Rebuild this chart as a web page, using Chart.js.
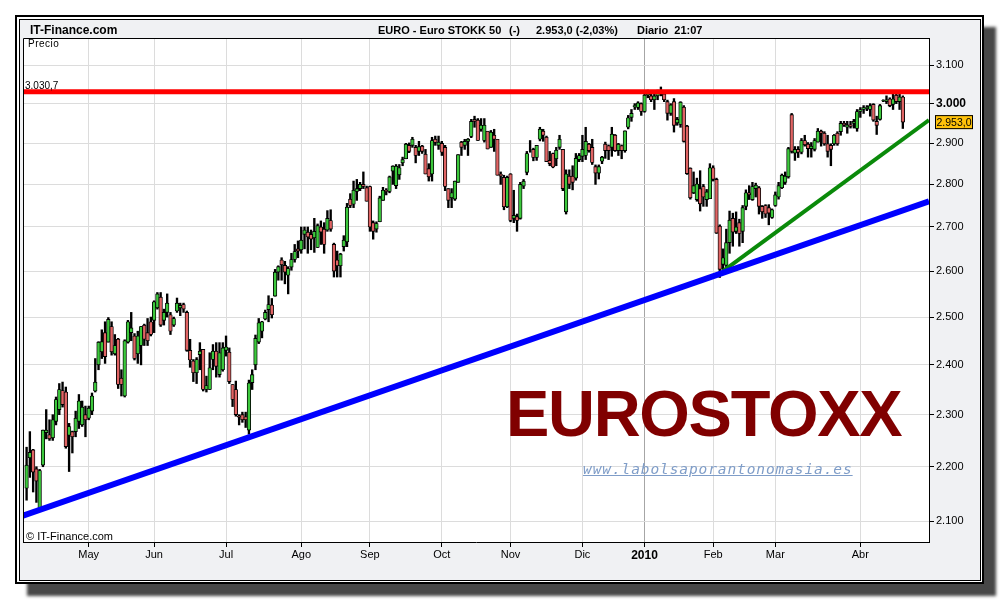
<!DOCTYPE html>
<html>
<head>
<meta charset="utf-8">
<script src="https://cdn.jsdelivr.net/npm/chart.js@4.4.1/dist/chart.umd.min.js"></script>
<style>
html,body{margin:0;padding:0;background:#fff;width:1000px;height:600px;overflow:hidden;font-family:"Liberation Sans",Arial,sans-serif;}
#outer{position:absolute;left:15px;top:15px;width:965px;height:565px;border:2px solid #000;background:#fff;box-shadow:12px 12px 3px #474747;}
#inner{position:absolute;left:19px;top:19px;width:960px;height:560px;border:1px solid #000;background:#f0f1f3;}
#c{position:absolute;left:0;top:0;z-index:2;}
.t{position:absolute;z-index:3;white-space:pre;color:#000;}
</style>
</head>
<body>
<div id="outer"></div>
<div id="inner"></div>
<canvas id="c" width="1000" height="600"></canvas>
<div class="t" style="left:30px;top:23px;font:bold 12px/14px 'Liberation Sans',Arial,sans-serif;">IT-Finance.com</div>
<div class="t" style="left:378px;top:24px;font:bold 11px/13px 'Liberation Sans',Arial,sans-serif;">EURO - Euro STOKK 50</div>
<div class="t" style="left:509px;top:24px;font:bold 11px/13px 'Liberation Sans',Arial,sans-serif;">(-)</div>
<div class="t" style="left:536px;top:24px;font:bold 11px/13px 'Liberation Sans',Arial,sans-serif;">2.953,0 (-2,03%)</div>
<div class="t" style="left:637px;top:24px;font:bold 11px/13px 'Liberation Sans',Arial,sans-serif;">Diario  21:07</div>
<div class="t" style="left:28px;top:39px;font:10px/10px 'Liberation Sans',Arial,sans-serif;letter-spacing:0.5px;">Precio</div>
<div class="t" style="left:26px;top:531px;font:11px/11px 'Liberation Sans',Arial,sans-serif;">© IT-Finance.com</div>
<div class="t" style="left:506px;top:381px;font:bold 65px/66px 'Liberation Sans',Arial,sans-serif;letter-spacing:-1.3px;color:#800000;">EUROSTOXX</div>
<div class="t" style="left:583px;top:462px;font:oblique 14.5px/14px 'DejaVu Sans Mono',monospace;letter-spacing:0.9px;color:#7f9dc8;text-decoration:underline;">www.labolsaporantonomasia.es</div>
<script>
// ---- data (daily candles, Euro Stoxx 50, Apr 2009 - Apr 2010) ----
const opens = [
2160,2217,2232,2196,2123,2203,2265,2261,2255,2287,
2310,2348,2345,2260,2267,2267,2287,2280,2300,2293,
2307,2347,2400,2427,2467,2447,2480,2423,2453,2373,
2337,2447,2467,2460,2423,2440,2483,2467,2490,2493,
2520,2543,2493,2510,2505,2483,2513,2520,2527,2510,
2430,2408,2384,2421,2432,2350,2350,2411,2428,2380,
2390,2430,2426,2360,2350,2298,2300,2296,2270,2364,
2400,2447,2470,2496,2516,2526,2545,2598,2625,2613,
2591,2609,2626,2650,2648,2683,2688,2683,2675,2653,
2700,2695,2693,2715,2660,2625,2612,2655,2666,2765,
2753,2783,2790,2800,2792,2795,2710,2695,2712,2762,
2786,2783,2832,2797,2823,2852,2862,2895,2895,2890,
2880,2893,2873,2838,2825,2910,2895,2900,2890,2790,
2768,2765,2805,2903,2895,2905,2917,2960,2958,2935,
2907,2930,2890,2920,2910,2825,2817,2747,2825,2720,
2724,2720,2796,2829,2880,2885,2865,2910,2930,2915,
2858,2875,2862,2890,2885,2735,2820,2820,2815,2860,
2868,2870,2898,2890,2843,2827,2856,2898,2894,2890,
2920,2882,2894,2882,2940,2965,2992,2990,3000,2980,
3022,3020,3010,3020,3030,3025,3005,2975,3005,2951,
2947,2991,2943,2839,2780,2764,2790,2795,2764,2766,
2840,2812,2702,2615,2613,2664,2720,2690,2710,2690,
2748,2780,2764,2790,2792,2748,2750,2745,2722,2750,
2770,2792,2805,2818,2972,2876,2885,2878,2907,2898,
2887,2885,2903,2930,2925,2899,2895,2899,2925,2929,
2950,2940,2946,2950,2937,2980,2985,2988,2985,2998,
2955,2960,3007,3005,3012,2998,3022,3005,3017];
const highs = [
2237,2267,2233,2200,2195,2270,2310,2290,2300,2335,
2362,2365,2355,2283,2268,2307,2340,2327,2317,2317,
2343,2413,2448,2473,2490,2499,2490,2463,2455,2390,
2452,2493,2510,2465,2470,2480,2485,2497,2500,2535,
2553,2553,2517,2550,2510,2500,2541,2530,2530,2513,
2453,2411,2415,2446,2432,2377,2425,2442,2446,2446,
2446,2460,2435,2360,2367,2300,2305,2305,2369,2390,
2462,2497,2491,2515,2546,2540,2604,2612,2630,2622,
2610,2640,2660,2668,2700,2700,2700,2693,2720,2707,
2714,2710,2738,2740,2663,2645,2640,2680,2755,2778,
2808,2812,2805,2830,2796,2796,2714,2712,2772,2793,
2790,2820,2845,2848,2848,2866,2900,2901,2915,2895,
2905,2895,2885,2850,2915,2918,2918,2905,2895,2790,
2790,2808,2872,2905,2910,2912,2960,2968,2962,2962,
2962,2930,2932,2935,2910,2830,2822,2820,2826,2786,
2730,2805,2812,2880,2907,2888,2895,2940,2935,2918,
2880,2876,2890,2920,2885,2835,2835,2845,2875,2875,
2920,2940,2900,2910,2847,2847,2868,2903,2896,2940,
2922,2900,2896,2931,2970,2985,3000,3005,3002,3030,
3035,3030,3025,3035,3043,3030,3009,3000,3013,2965,
3005,2995,2945,2840,2830,2815,2833,2800,2788,2850,
2845,2815,2705,2650,2695,2737,2732,2735,2718,2750,
2787,2797,2805,2803,2795,2750,2752,2752,2742,2782,
2805,2825,2830,2890,2975,2892,2892,2912,2920,2902,
2902,2912,2937,2933,2929,2920,2899,2922,2929,2955,
2955,2955,2955,2960,2985,2990,2995,2995,3000,3000,
2968,2998,3010,3020,3015,3028,3030,3030,3020];
const lows = [
2138,2180,2153,2134,2120,2200,2253,2250,2250,2280,
2300,2315,2235,2191,2226,2257,2273,2277,2257,2290,
2300,2345,2390,2413,2403,2447,2420,2420,2352,2337,
2335,2445,2450,2410,2403,2400,2440,2440,2460,2467,
2517,2480,2483,2500,2463,2480,2510,2503,2510,2428,
2395,2366,2362,2390,2347,2345,2350,2390,2375,2375,
2387,2418,2362,2316,2297,2280,2285,2275,2262,2350,
2390,2444,2456,2494,2490,2498,2545,2580,2580,2572,
2550,2602,2620,2630,2640,2650,2640,2648,2642,2653,
2660,2640,2690,2690,2587,2587,2587,2645,2655,2745,
2745,2762,2785,2790,2760,2690,2672,2688,2712,2762,
2775,2780,2800,2790,2812,2845,2862,2877,2890,2852,
2870,2875,2825,2808,2808,2895,2885,2870,2785,2745,
2745,2762,2805,2870,2885,2870,2914,2940,2907,2930,
2903,2886,2890,2880,2822,2800,2740,2745,2712,2710,
2690,2718,2790,2823,2878,2857,2858,2906,2905,2855,
2845,2840,2845,2885,2785,2730,2790,2787,2810,2855,
2855,2860,2878,2848,2800,2813,2850,2863,2860,2868,
2880,2870,2862,2878,2936,2955,2985,2985,2970,2978,
3015,3005,2985,3010,3020,3005,2958,2970,2928,2945,
2940,2903,2824,2765,2778,2760,2737,2748,2748,2766,
2808,2685,2586,2600,2610,2640,2656,2685,2656,2664,
2740,2764,2762,2770,2730,2720,2722,2705,2720,2748,
2765,2790,2800,2815,2876,2858,2865,2874,2893,2866,
2866,2881,2903,2893,2895,2866,2845,2895,2895,2920,
2942,2925,2938,2938,2930,2965,2975,2982,2968,2955,
2922,2958,3005,3000,2992,2985,3000,2985,2937];
const closes = [
2203,2227,2190,2173,2193,2270,2270,2253,2290,2330,
2350,2320,2238,2277,2257,2293,2327,2315,2290,2313,
2337,2365,2447,2448,2417,2495,2427,2440,2360,2360,
2450,2490,2477,2413,2460,2480,2453,2450,2463,2533,
2550,2483,2510,2530,2470,2497,2530,2525,2517,2430,
2410,2384,2411,2428,2350,2358,2394,2428,2397,2425,
2435,2437,2366,2330,2300,2295,2290,2290,2363,2380,
2455,2488,2490,2510,2527,2505,2598,2610,2614,2598,
2606,2626,2644,2645,2670,2693,2677,2672,2690,2703,
2688,2660,2720,2695,2600,2612,2638,2670,2746,2750,
2786,2790,2800,2795,2760,2700,2690,2708,2768,2786,
2783,2818,2844,2844,2840,2860,2898,2880,2910,2870,
2892,2880,2825,2818,2907,2902,2903,2878,2795,2762,
2780,2808,2872,2890,2905,2910,2955,2955,2907,2945,
2945,2886,2928,2910,2822,2820,2747,2817,2715,2727,
2715,2800,2808,2875,2880,2865,2895,2935,2920,2855,
2850,2842,2883,2910,2790,2825,2800,2805,2863,2870,
2885,2905,2882,2853,2827,2843,2866,2882,2882,2923,
2882,2898,2882,2931,2964,2975,2995,3002,2980,3022,
3025,3010,3020,3030,3035,3010,2975,2997,2945,2960,
3004,2905,2826,2768,2797,2801,2754,2770,2782,2840,
2812,2686,2604,2630,2664,2716,2688,2700,2685,2745,
2780,2775,2795,2798,2748,2735,2730,2732,2740,2775,
2797,2822,2820,2887,2880,2885,2878,2907,2896,2887,
2893,2907,2930,2925,2899,2880,2885,2920,2899,2950,
2946,2946,2942,2955,2980,2985,2990,2990,2995,2958,
2945,2995,3008,3010,2995,3012,3005,3017,2953];

// month labels and index of first trading day of each month
const monthLabels = ['May','Jun','Jul','Ago','Sep','Oct','Nov','Dic','2010','Feb','Mar','Abr'];
const monthStart  = [19, 39, 61, 84, 105, 127, 148, 170, 189, 210, 229, 255];
const yTickValues = [2100,2200,2300,2400,2500,2600,2700,2800,2900,3000,3100];

// drawn lines: resistance level and two support trend lines (day index, price)
const resistance = 3030.7;
const blueTrendDays = [-1.1, 276], blueTrendPrices = [2110, 2760];
const greenTrendDays = [213, 276], greenTrendPrices = [2600, 2958];
const dayMin = -1.1, dayMax = 276;

// ---- helpers ----
function fmt(v, dec) {
  const p = v.toFixed(dec).split('.');
  const ip = p[0].replace(/\B(?=(\d{3})+(?!\d))/g, '.');
  return p.length > 1 ? ip + ',' + p[1] : ip;
}
const FONT = '"Liberation Sans", Arial, sans-serif';
Chart.defaults.font.family = FONT;
Chart.defaults.font.size = 11;
Chart.defaults.color = '#000';

const idx = closes.map((_, i) => i);
const wickData = idx.map(i => ({x: i, y: [Math.min(lows[i], opens[i], closes[i]), Math.max(highs[i], opens[i], closes[i])]}));
const bodyData = idx.map(i => ({x: i, y: [opens[i], closes[i]]}));
const bodyColors = idx.map(i => closes[i] >= opens[i] ? '#3cc83c' : '#e06464');

const framePlugin = {
  id: 'framePlugin',
  beforeDraw(chart) {
    const {ctx, chartArea: a} = chart;
    ctx.save();
    ctx.fillStyle = '#fff';
    ctx.fillRect(a.left, a.top, a.right - a.left, a.bottom - a.top);
    ctx.restore();
  },
  afterDraw(chart) {
    const {ctx, chartArea: a} = chart;
    const y = chart.scales.y;
    ctx.save();
    ctx.strokeStyle = '#000';
    ctx.lineWidth = 1;
    ctx.beginPath();
    ctx.moveTo(a.left + 0.5, a.bottom);
    ctx.lineTo(a.left + 0.5, a.top + 0.5);
    ctx.lineTo(a.right, a.top + 0.5);
    ctx.stroke();
    // resistance label
    const ry = y.getPixelForValue(resistance);
    ctx.font = '10px ' + FONT;
    ctx.fillStyle = '#000';
    ctx.textAlign = 'left';
    ctx.textBaseline = 'alphabetic';
    ctx.fillText(fmt(resistance, 1), a.left + 2, ry - 3);
    // last price box
    const last = closes[closes.length - 1];
    const py = y.getPixelForValue(last);
    ctx.fillStyle = '#ffc20a';
    ctx.fillRect(a.right + 6, py - 7, 38, 14);
    ctx.strokeRect(a.right + 6.5, py - 6.5, 37, 13);
    ctx.fillStyle = '#000';
    ctx.textAlign = 'center';
    ctx.textBaseline = 'middle';
    ctx.font = '10.5px ' + FONT;
    ctx.fillText(fmt(last, 1), a.right + 25, py + 0.5);
    ctx.restore();
  }
};

new Chart(document.getElementById('c'), {
  type: 'bar',
  data: {
    datasets: [
      {type: 'line', data: [{x: dayMin, y: resistance}, {x: dayMax, y: resistance}], borderColor: '#ff0000', borderWidth: 5, pointRadius: 0, order: 0},
      {type: 'line', data: blueTrendDays.map((d, k) => ({x: d, y: blueTrendPrices[k]})), borderColor: '#0000ff', borderWidth: 6, pointRadius: 0, order: 0},
      {type: 'line', data: greenTrendDays.map((d, k) => ({x: d, y: greenTrendPrices[k]})), borderColor: '#0a8a0a', borderWidth: 4, pointRadius: 0, order: 0},
      {data: bodyData, backgroundColor: bodyColors, borderColor: '#000', borderWidth: 0.9, borderSkipped: false, barThickness: 3.6, grouped: false, order: 1},
      {data: wickData, backgroundColor: '#000', borderWidth: 0, barThickness: 1.7, grouped: false, order: 2}
    ]
  },
  options: {
    responsive: false,
    devicePixelRatio: 1,
    animation: false,
    layout: {padding: {left: 23, top: 38, right: 0, bottom: 0}},
    plugins: {legend: {display: false}, tooltip: {enabled: false}, title: {display: false}},
    scales: {
      x: {
        type: 'linear',
        min: dayMin,
        max: dayMax,
        offset: false,
        afterBuildTicks: s => { s.ticks = monthStart.map(v => ({value: v})); },
        afterFit: s => { s.height = 58; },
        ticks: {
          autoSkip: false,
          maxRotation: 0,
          padding: 1,
          color: '#000',
          callback: v => { const k = monthStart.indexOf(v); return k >= 0 ? monthLabels[k] : ''; },
          font: ctx => (ctx.tick && ctx.tick.value === 189) ? {size: 12, weight: 'bold'} : {size: 11}
        },
        grid: {
          offset: false,
          color: ctx => (ctx.tick && ctx.tick.value === 189) ? '#a6a6a6' : '#dcdcdc',
          tickColor: '#000',
          tickLength: 5,
          lineWidth: 1
        },
        border: {display: true, color: '#000', width: 1}
      },
      y: {
        type: 'logarithmic',
        position: 'right',
        min: 2063,
        max: 3173,
        afterBuildTicks: s => { s.ticks = yTickValues.map(v => ({value: v})); },
        afterFit: s => { s.width = 71; },
        ticks: {
          padding: 2,
          color: '#000',
          callback: v => fmt(v, 0),
          font: ctx => (ctx.tick && ctx.tick.value === 3000) ? {size: 12, weight: 'bold'} : {size: 11}
        },
        grid: {color: '#dcdcdc', tickColor: '#000', tickLength: 5, lineWidth: 1},
        border: {display: true, color: '#000', width: 1}
      }
    }
  },
  plugins: [framePlugin]
});
</script>
</body>
</html>
